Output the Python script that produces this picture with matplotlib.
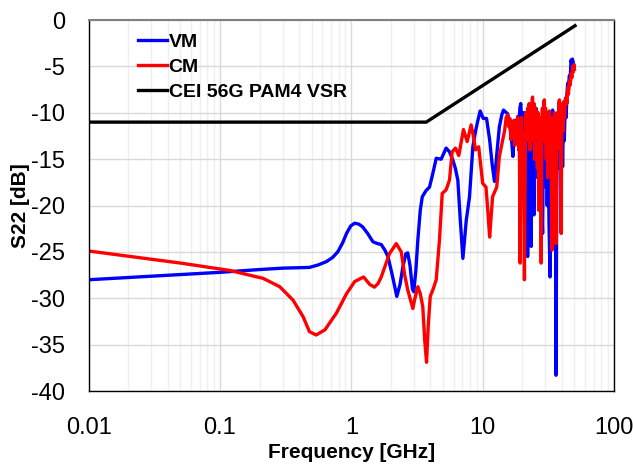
import matplotlib
matplotlib.use("Agg")
import matplotlib.pyplot as plt
from matplotlib import font_manager
import numpy as np

names = {f.name for f in font_manager.fontManager.ttflist}
fam = [n for n in ["Liberation Sans Narrow", "Liberation Sans", "DejaVu Sans"] if n in names]
plt.rcParams['font.family'] = fam

# VM series (GHz, dB)
vm_freq = [0.01, 0.1, 0.2, 0.3, 0.48, 0.56, 0.645, 0.72, 0.79, 0.86, 0.92, 0.99, 1.06, 1.14, 1.22,
           1.33, 1.46, 1.58, 1.69, 1.80, 1.90, 2.05, 2.22, 2.35, 2.47, 2.60, 2.69, 2.80, 2.92, 2.99,
           3.10, 3.21, 3.35, 3.47, 3.7, 3.94, 4.18, 4.43, 4.83, 5.27, 5.59, 5.93, 6.2, 6.47, 6.75,
           7.07, 7.3, 7.5, 7.94, 8.42, 8.82, 9.2, 9.57, 10.1, 10.7, 11.3, 11.8, 12.3, 12.8, 13.4,
           14.0, 14.4, 14.9, 15.5, 16.0, 16.5, 17.0, 17.4, 17.8, 18.2, 18.5, 18.8, 19.2, 19.5, 19.8,
           20.1, 20.4, 20.7, 21.0, 21.3, 21.6, 21.9, 22.0, 22.3, 22.6, 22.9, 23.2, 23.4, 23.7, 24.0,
           24.3, 24.6, 24.9, 25.2, 25.5, 25.9, 26.2, 26.6, 27.0, 27.4, 27.8, 28.2, 28.6, 29.0, 29.4,
           29.8, 30.2, 30.6, 31.0, 31.5, 32.0, 32.6, 33.0, 33.5, 34.1, 34.6, 35.0, 35.5, 35.9, 36.2,
           36.6, 37.0, 37.5, 38.0, 38.4, 38.9, 39.5, 40.0, 40.6, 41.2, 41.8, 42.5, 43.2, 43.8, 44.4,
           45.0, 45.7, 46.4, 47.1, 47.6, 48.2, 49.2]
vm_db = [-28.0, -27.2, -26.9, -26.75, -26.67, -26.4, -26.05, -25.6, -24.98, -24.0, -23.0, -22.2, -21.9, -22.0, -22.3,
         -23.0, -23.9, -24.1, -24.2, -24.8, -25.5, -27.5, -29.8, -28.5, -26.6, -25.2, -25.1, -26.5, -29.0, -29.3,
         -27.0, -23.7, -20.5, -19.05, -18.4, -18.0, -16.5, -14.9, -15.0, -13.8, -14.2, -15.1, -16.0, -17.25, -21.5,
         -25.7, -23.5, -21.6, -19.05, -13.66, -12.0, -10.8, -9.8, -10.6, -10.6, -12.9, -15.5, -17.4, -14.5, -11.5,
         -10.2, -9.7, -9.9, -10.1, -11.1, -12.5, -14.7, -12.0, -10.8, -11.5, -10.4, -12.0, -9.5, -9.0, -11.0,
         -14.0, -10.0, -16.0, -10.0, -18.0, -11.0, -22.0, -25.5, -12.0, -20.0, -11.0, -22.0, -24.4, -13.0, -20.0,
         -11.0, -21.0, -10.5, -17.0, -9.5, -14.0, -10.5, -17.0, -11.0, -19.0, -12.0, -20.0, -23.0, -12.0, -16.0,
         -11.0, -18.0, -12.0, -20.0, -13.0, -22.0, -27.7, -15.0, -10.5, -9.7, -15.0, -11.0, -18.0, -13.0, -38.3,
         -20.0, -12.0, -16.0, -11.0, -15.0, -10.5, -14.0, -11.0, -15.8, -10.5, -13.0, -9.5, -10.5, -8.0, -6.8,
         -7.5, -6.0, -6.3, -4.3, -4.6, -4.2, -4.7]

# CM series (GHz, dB)
cm_freq = [0.01, 0.05, 0.119, 0.213, 0.285, 0.36, 0.43, 0.48, 0.54, 0.63, 0.77, 0.92, 1.06, 1.24, 1.38,
           1.50, 1.60, 1.69, 1.95, 2.20, 2.40, 2.55, 2.69, 2.94, 3.05, 3.21, 3.35, 3.5, 3.62, 3.74,
           3.85, 3.99, 4.2, 4.43, 4.69, 4.92, 5.27, 5.59, 5.86, 6.21, 6.58, 7.14, 7.62, 8.17, 8.5,
           8.82, 9.33, 10.0, 10.6, 11.0, 11.3, 11.9, 12.8, 13.4,
           14.7, 15.1, 15.5, 15.8, 16.1, 16.4, 16.7, 17.0, 17.3, 17.6, 17.9, 18.2, 18.5, 18.8, 19.0,
           19.3, 19.5, 19.8, 20.1, 20.4, 20.8, 21.1, 21.4, 21.7, 22.0, 22.3, 22.6, 22.9, 23.2, 23.5,
           23.8, 24.0, 24.3, 24.6, 24.9, 25.2, 25.5, 25.8, 26.1, 26.4, 26.7, 27.0, 27.3, 27.6, 27.9,
           28.2, 28.5, 28.8, 29.2, 29.5, 29.8, 30.1, 30.5, 30.8, 31.2, 31.5, 31.9, 32.2, 32.6, 33.0,
           33.4, 33.8, 34.1, 34.5, 34.9, 35.3, 35.7, 36.2, 36.6, 37.0, 37.5, 38.0, 38.4, 38.8, 39.2,
           39.6, 40.0, 40.5, 41.0, 41.5, 42.0, 42.6, 43.2, 43.8, 44.4, 45.0, 45.7, 46.4, 47.2, 47.8,
           48.4, 49.0, 49.5, 50.0]
cm_db = [-24.9, -26.2, -27.0, -27.85, -28.75, -30.2, -32.0, -33.6, -33.96, -33.4, -31.6, -29.5, -28.2, -27.7, -28.5,
         -28.8, -28.4, -27.7, -25.2, -24.1, -25.0, -27.5, -29.1, -31.1, -30.0, -28.75, -29.5, -30.9, -34.5, -36.9,
         -33.0, -29.8, -29.0, -28.0, -23.7, -18.7, -18.3, -17.25, -14.2, -13.8, -14.6, -11.8, -13.1, -11.3, -12.5,
         -14.0, -13.66, -17.6, -18.0, -21.0, -23.4, -19.05, -18.0, -14.7,
         -11.9, -10.5, -10.2, -11.5, -10.6, -12.9, -11.0, -12.2, -10.8, -13.5, -11.0, -12.0, -10.5, -14.0, -12.0,
         -26.2, -13.0, -10.5, -15.0, -12.0, -28.0, -14.0, -10.0, -13.0, -9.5, -12.5, -9.0, -14.0, -9.2, -12.5,
         -8.5, -8.3, -13.0, -9.0, -15.0, -9.5, -13.0, -9.8, -16.0, -10.0, -20.5, -10.5, -14.0, -11.0, -26.2,
         -12.0, -9.5, -13.0, -8.8, -8.6, -13.0, -9.5, -15.0, -10.0, -17.0, -10.0, -14.0, -9.8, -12.0, -10.5,
         -18.0, -24.8, -12.0, -10.5, -14.0, -10.0, -17.0, -24.1, -12.0, -10.0, -13.0, -9.0, -8.6, -14.0, -10.0,
         -23.0, -11.0, -9.0, -12.0, -8.8, -10.5, -8.5, -8.3, -9.0, -7.3, -8.0, -6.5, -7.0, -5.8, -6.2,
         -5.0, -5.6, -4.8, -5.3]

# CEI 56G PAM4 VSR mask
mask_freq = [0.01, 3.72, 50.5]
mask_db = [-11.0, -11.0, -0.6]

x_ticks = [0.01, 0.1, 1, 10, 100]
x_labels = ["0.01", "0.1", "1", "10", "100"]
y_ticks = [-40, -35, -30, -25, -20, -15, -10, -5, 0]
y_labels = ["-40", "-35", "-30", "-25", "-20", "-15", "-10", "-5", "0"]

fig = plt.figure(figsize=(6.33, 4.68), dpi=100)
ax = fig.add_axes([0.140, 0.1645, 0.830, 0.7925])

ax.plot(vm_freq, vm_db, color="#0000ff", lw=2.4, label="VM", solid_joinstyle="round")
ax.plot(cm_freq, cm_db, color="#ff0000", lw=2.4, label="CM", solid_joinstyle="round")
ax.plot(mask_freq, mask_db, color="#000000", lw=2.4, label="CEI 56G PAM4 VSR")

ax.set_xscale("log")
ax.set_xlim(0.01, 100)
ax.set_ylim(-40, 0)
ax.set_xticks(x_ticks)
ax.set_xticklabels(x_labels)
ax.set_yticks(y_ticks)
ax.set_yticklabels(y_labels)
ax.xaxis.set_minor_locator(matplotlib.ticker.LogLocator(base=10, subs=np.arange(2, 10)))
ax.xaxis.set_minor_formatter(matplotlib.ticker.NullFormatter())
ax.tick_params(axis="both", which="both", length=0, labelsize=17)
ax.tick_params(axis="x", pad=19)
ax.tick_params(axis="y", pad=17)
ax.grid(True, which="major", axis="both", color="#d9d9d9", lw=1.0)
ax.grid(True, which="minor", axis="x", color="#efefef", lw=1.0)
ax.set_axisbelow(True)

for s in ["left", "bottom", "right"]:
    ax.spines[s].set_color("black")
    ax.spines[s].set_linewidth(1.0)
ax.spines["top"].set_color("#808080")
ax.spines["top"].set_linewidth(1.5)

ax.set_xlabel("Frequency [GHz]", fontsize=15, fontweight="bold")
ax.set_ylabel("S22 [dB]", fontsize=15, fontweight="bold")
ax.xaxis.set_label_coords(0.5, -0.14)
ax.yaxis.set_label_coords(-0.112, 0.5)

leg = ax.legend(loc="upper left", bbox_to_anchor=(0.08, 0.985), frameon=False,
                prop={"size": 14, "weight": "bold"}, handlelength=1.45, handletextpad=0.1,
                labelspacing=0.38, borderaxespad=0.0)

fig.savefig("out.png", dpi=100)
